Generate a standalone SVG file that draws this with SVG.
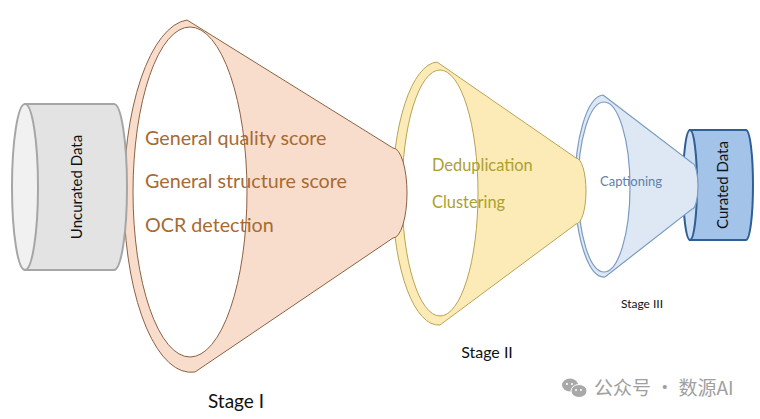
<svg xmlns="http://www.w3.org/2000/svg" width="760" height="419" viewBox="0 0 760 419">
<style>
text{font-family:Lato,"Liberation Sans","Noto Sans CJK SC",sans-serif}
.s1{fill:#f9ddcc;stroke:#8c6142;stroke-width:1}
.s2{fill:#fcebb7;stroke:#b9a452;stroke-width:1}
.s3{fill:#dde8f4;stroke:#7a9bc3;stroke-width:1.2}
.t1{fill:#a76a33;font-size:19.7px}
.t2{fill:#ada02e;font-size:16.4px}
.t3{fill:#5f80a8;font-size:13px}
.lbl{fill:#111;text-anchor:middle}
</style>
<rect width="760" height="419" fill="#ffffff"/>
<g id="curated-data">
<path d="M690,130 L746,130 A7,55 0 0 1 746,240 L690,240 Z" fill="#a3c3e9" stroke="#2f5f94" stroke-width="2"/>
<ellipse cx="690" cy="185" rx="7" ry="55" fill="#cddff3" stroke="#2f5f94" stroke-width="2"/>
<text class="lbl" transform="translate(728,185) rotate(-90)" font-size="15" fill="#1e3554">Curated Data</text>
</g>
<g id="stage3">
<path class="s3" d="M603,95 L692,163 A6,23 0 0 1 692,209 L605,277 A29,91 0 0 1 603,95 Z"/>
<ellipse class="s3" cx="604" cy="187" rx="26" ry="85" style="fill:#fff"/>
<text class="t3" x="600" y="186">Captioning</text>
<text class="lbl" x="642" y="308" font-size="12">Stage III</text>
</g>
<g id="stage2">
<path class="s2" d="M437,62 L576,158 A10,33 0 0 1 576,224 L440,325 A46,131.5 0 0 1 437,62 Z"/>
<ellipse class="s2" cx="440" cy="193" rx="38" ry="123" style="fill:#fff"/>
<text class="t2" x="432" y="171">Deduplication</text>
<text class="t2" x="432" y="208">Clustering</text>
<text class="lbl" x="487" y="358" font-size="16">Stage II</text>
</g>
<g id="stage1">
<path class="s1" d="M187,20 L393,148 A14,45 0 0 1 393,238 L195,372 A67,176 0 0 1 187,20 Z"/>
<ellipse class="s1" cx="190" cy="192" rx="57" ry="165" style="fill:#fff"/>
<text class="t1" x="145" y="145">General quality score</text>
<text class="t1" x="145" y="188">General structure score</text>
<text class="t1" x="145" y="232">OCR detection</text>
<text class="lbl" x="236" y="408" font-size="19">Stage I</text>
</g>
<g id="uncurated-data">
<path d="M25,104 L114,104 A13,83 0 0 1 114,270 L25,270 Z" fill="#e3e3e3" stroke="#a6a6a6" stroke-width="2"/>
<ellipse cx="25" cy="187" rx="13" ry="83" fill="#f1f1f1" stroke="#a6a6a6" stroke-width="2"/>
<text class="lbl" transform="translate(82,187) rotate(-90)" font-size="15" fill="#222">Uncurated Data</text>
</g>
<g id="connectors"></g>
<g id="watermark">
<ellipse cx="570" cy="385" rx="8" ry="6.5" fill="#a8a8a8"/>
<ellipse cx="579" cy="391" rx="8" ry="6.5" fill="#a8a8a8" stroke="#fff" stroke-width="1"/>
<circle cx="567" cy="384" r="1.1" fill="#fff"/>
<circle cx="572" cy="384" r="1.1" fill="#fff"/>
<circle cx="576" cy="390" r="1" fill="#fff"/>
<circle cx="581" cy="390" r="1" fill="#fff"/>
<text x="594" y="395" font-size="19" fill="#a0a0a0" style="font-family:'Noto Sans CJK SC',sans-serif">公众号 · 数源AI</text>
</g>
</svg>
